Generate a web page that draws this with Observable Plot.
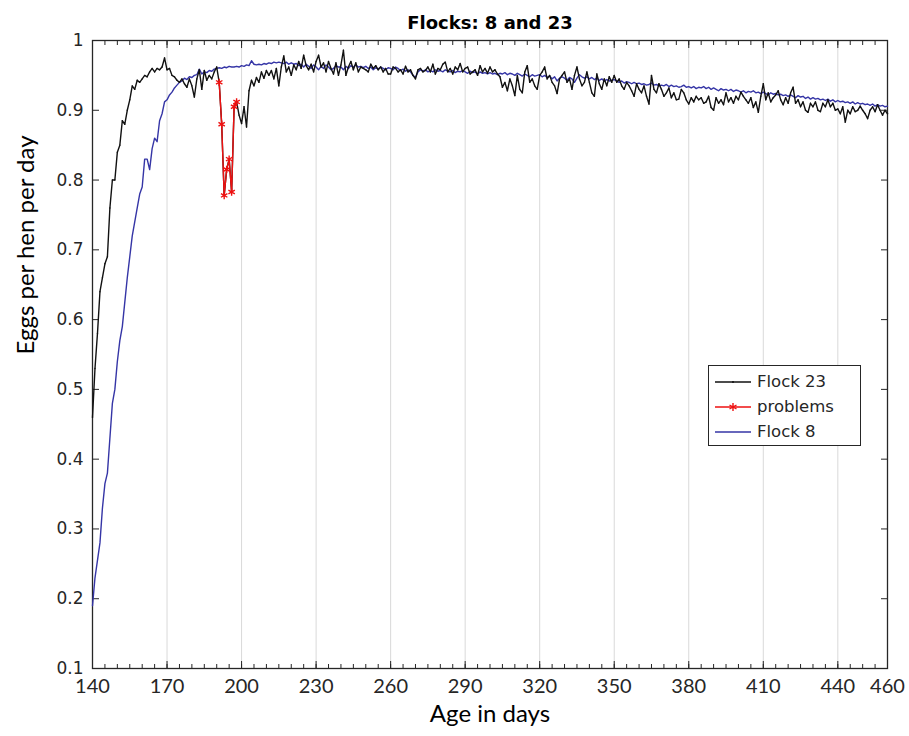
<!DOCTYPE html>
<html>
<head>
<meta charset="utf-8">
<script src="https://cdn.jsdelivr.net/npm/d3@7"></script>
<script src="https://cdn.jsdelivr.net/npm/@observablehq/plot@0.6"></script>
<style>
  html, body { margin: 0; padding: 0; background: #fff; }
  #wrap { position: relative; width: 909px; height: 736px; }
  #legend { position: absolute; left: 708px; top: 365px; width: 153px; height: 81px;
    border: 1px solid #262626; background: #fff; font-family: "DejaVu Sans", sans-serif;
    font-size: 16.5px; color: #262626; box-sizing: border-box; padding-top: 3px; }
  #legend .row { display: flex; align-items: center; height: 25px; }
  #legend svg { margin-left: 6px; margin-right: 6px; }
</style>
</head>
<body>
<div id="wrap"></div>
<script>
// Age in days (first day of series) and daily values
const startDay = 140;
const flock23 = [
  0.46,0.53,0.58,0.64,0.66,0.68,0.69,0.76,0.80,0.80,
  0.84,0.85,0.885,0.88,0.90,0.915,0.935,0.93,0.943,0.94,
  0.945,0.95,0.948,0.955,0.96,0.955,0.96,0.958,0.962,0.975,
  0.958,0.96,0.95,0.948,0.943,0.94,0.945,0.938,0.933,0.945,
  0.935,0.919,0.945,0.958,0.93,0.957,0.943,0.95,0.945,0.955,
  0.962,0.94,0.88,0.778,0.815,0.83,0.783,0.905,0.912,0.893,
  0.881,0.905,0.876,0.928,0.943,0.935,0.947,0.94,0.955,0.946,
  0.957,0.95,0.957,0.945,0.96,0.935,0.962,0.978,0.955,0.962,
  0.95,0.965,0.958,0.97,0.96,0.979,0.964,0.958,0.966,0.955,
  0.97,0.979,0.962,0.968,0.955,0.97,0.96,0.952,0.968,0.95,
  0.965,0.986,0.95,0.962,0.97,0.958,0.968,0.955,0.962,0.96,
  0.958,0.955,0.966,0.96,0.964,0.958,0.962,0.955,0.96,0.952,
  0.952,0.962,0.96,0.955,0.958,0.952,0.963,0.955,0.958,0.95,
  0.945,0.958,0.96,0.955,0.957,0.962,0.955,0.966,0.952,0.96,
  0.958,0.966,0.969,0.955,0.96,0.952,0.962,0.958,0.967,0.955,
  0.96,0.962,0.952,0.955,0.958,0.95,0.964,0.955,0.96,0.953,
  0.962,0.955,0.958,0.952,0.948,0.933,0.94,0.928,0.945,0.935,
  0.921,0.95,0.93,0.925,0.955,0.964,0.94,0.945,0.935,0.93,
  0.95,0.955,0.962,0.945,0.95,0.94,0.935,0.924,0.945,0.95,
  0.955,0.94,0.945,0.93,0.95,0.962,0.945,0.935,0.94,0.955,
  0.94,0.925,0.92,0.952,0.938,0.93,0.945,0.935,0.948,0.94,
  0.95,0.94,0.945,0.935,0.93,0.94,0.935,0.928,0.92,0.938,
  0.93,0.925,0.935,0.92,0.909,0.95,0.93,0.925,0.938,0.93,
  0.92,0.925,0.932,0.918,0.925,0.915,0.916,0.93,0.925,0.915,
  0.909,0.918,0.912,0.92,0.915,0.918,0.91,0.912,0.92,0.904,
  0.90,0.918,0.91,0.915,0.908,0.925,0.912,0.918,0.91,0.92,
  0.915,0.926,0.92,0.915,0.91,0.918,0.904,0.912,0.897,0.92,
  0.938,0.915,0.925,0.912,0.918,0.922,0.928,0.915,0.908,0.918,
  0.91,0.925,0.933,0.91,0.915,0.905,0.912,0.90,0.897,0.91,
  0.905,0.912,0.90,0.898,0.91,0.905,0.915,0.905,0.91,0.90,
  0.902,0.895,0.905,0.883,0.90,0.895,0.905,0.898,0.90,0.906,
  0.90,0.895,0.888,0.90,0.905,0.898,0.908,0.90,0.893,0.90,
  0.895
];
const flock8 = [
  0.19,0.23,0.255,0.28,0.33,0.365,0.38,0.43,0.48,0.50,
  0.54,0.57,0.59,0.625,0.66,0.69,0.72,0.74,0.76,0.78,
  0.79,0.83,0.83,0.815,0.845,0.86,0.855,0.885,0.895,0.912,
  0.915,0.922,0.926,0.932,0.936,0.94,0.942,0.946,0.944,0.948,
  0.947,0.95,0.951,0.959,0.952,0.955,0.954,0.957,0.956,0.959,
  0.96,0.961,0.96,0.962,0.961,0.963,0.962,0.962,0.963,0.962,
  0.964,0.963,0.965,0.964,0.971,0.966,0.965,0.966,0.965,0.967,
  0.966,0.968,0.967,0.969,0.968,0.969,0.968,0.967,0.969,0.966,
  0.968,0.966,0.967,0.964,0.966,0.962,0.966,0.963,0.96,0.965,
  0.962,0.958,0.963,0.96,0.965,0.962,0.958,0.96,0.964,0.962,
  0.962,0.958,0.963,0.96,0.964,0.962,0.965,0.962,0.963,0.961,
  0.963,0.96,0.962,0.958,0.961,0.959,0.962,0.96,0.958,0.961,
  0.96,0.958,0.962,0.96,0.957,0.959,0.956,0.958,0.955,0.95,
  0.947,0.955,0.958,0.956,0.958,0.955,0.957,0.955,0.958,0.956,
  0.957,0.955,0.958,0.956,0.955,0.957,0.954,0.956,0.955,0.957,
  0.955,0.953,0.956,0.954,0.955,0.952,0.955,0.953,0.954,0.952,
  0.954,0.952,0.953,0.951,0.953,0.952,0.954,0.951,0.953,0.952,
  0.95,0.953,0.951,0.949,0.952,0.95,0.948,0.951,0.949,0.95,
  0.951,0.948,0.95,0.947,0.949,0.945,0.948,0.942,0.946,0.948,
  0.946,0.943,0.947,0.945,0.94,0.946,0.951,0.948,0.946,0.948,
  0.945,0.947,0.944,0.946,0.943,0.945,0.942,0.944,0.942,0.943,
  0.944,0.942,0.94,0.942,0.939,0.941,0.94,0.938,0.94,0.938,
  0.939,0.937,0.938,0.936,0.937,0.939,0.936,0.937,0.935,0.936,
  0.935,0.937,0.934,0.936,0.934,0.935,0.933,0.934,0.936,0.933,
  0.934,0.932,0.934,0.931,0.933,0.932,0.934,0.931,0.933,0.93,
  0.932,0.93,0.928,0.931,0.929,0.93,0.928,0.93,0.927,0.929,
  0.928,0.926,0.928,0.925,0.927,0.926,0.928,0.925,0.926,0.924,
  0.926,0.924,0.922,0.925,0.923,0.924,0.922,0.923,0.921,0.922,
  0.92,0.922,0.92,0.918,0.921,0.919,0.92,0.917,0.919,0.916,
  0.918,0.916,0.917,0.915,0.916,0.914,0.916,0.913,0.915,0.912,
  0.914,0.912,0.913,0.911,0.912,0.91,0.912,0.909,0.911,0.909,
  0.91,0.908,0.909,0.907,0.909,0.906,0.908,0.906,0.907,0.905,
  0.906
];
const problemDays = [191,192,193,194,195,196,197,198];
const problemVals = [0.94,0.88,0.778,0.815,0.83,0.783,0.905,0.912];

const xTickLabels = [140,170,200,230,260,290,320,350,380,410,440,460];
const xGrid = [170,200,230,260,290,320,350,380,410,440];
const xMinorTicks = d3.range(140, 461, 5);
const yTicks = [0.1,0.2,0.3,0.4,0.5,0.6,0.7,0.8,0.9,1];

const titleText = "Flocks: 8 and 23";
const xLabel = "Age in days";
const yLabel = "Eggs per hen per day";

const d23 = flock23.map((v, i) => ({day: startDay + i, v}));
const d8 = flock8.map((v, i) => ({day: startDay + i, v}));
const dProb = problemDays.map((day, i) => ({day, v: problemVals[i]}));

const ink = "#262626";
const tickFont = "'DejaVu Sans', sans-serif";
const labelFont = "Lato, 'Open Sans', sans-serif";

const chart = Plot.plot({
  width: 909,
  height: 736,
  marginLeft: 92,
  marginRight: 22,
  marginTop: 40,
  marginBottom: 68,
  x: {domain: [140, 460], label: null},
  y: {domain: [0.1, 1], label: null},
  style: {background: "#fff", color: ink},
  marks: [
    Plot.gridX(xGrid, {stroke: "#d9d9d9", strokeOpacity: 1}),
    // inward minor/major ticks on bottom and top
    Plot.axisX(xMinorTicks, {anchor: "bottom", tickSize: -4, text: null, label: null, stroke: ink}),
    Plot.axisX(xMinorTicks, {anchor: "top", tickSize: -4, text: null, label: null, stroke: ink}),
    Plot.axisX(xGrid, {anchor: "bottom", tickSize: -7, text: null, label: null, stroke: ink}),
    Plot.axisX(xGrid, {anchor: "top", tickSize: -7, text: null, label: null, stroke: ink}),
    Plot.axisX(xTickLabels, {anchor: "bottom", tickSize: 0, tickPadding: 10, label: null,
      tickFormat: d => String(d), fontSize: 20, fontFamily: labelFont, fill: ink}),
    Plot.axisY(yTicks, {anchor: "left", tickSize: -7, tickPadding: 16, label: null,
      tickFormat: d => String(d), fontSize: 17, fontFamily: tickFont, fill: ink, stroke: ink}),
    Plot.axisY(yTicks, {anchor: "right", tickSize: -7, text: null, label: null, stroke: ink}),
    Plot.frame({stroke: ink, strokeWidth: 1.3}),
    Plot.line(d8, {x: "day", y: "v", stroke: "#3535a6", strokeWidth: 1.4}),
    Plot.line(d23, {x: "day", y: "v", stroke: "#111", strokeWidth: 1.4}),
    Plot.dot(d23, {x: "day", y: "v", r: 0.7, fill: "#111"}),
    Plot.line(dProb, {x: "day", y: "v", stroke: "#ee1111", strokeWidth: 1.4}),
    Plot.dot(dProb, {x: "day", y: "v", symbol: "asterisk", r: 3.5, stroke: "#ee1111", strokeWidth: 1.4}),
    Plot.text([titleText], {frameAnchor: "top", dy: -24, fontSize: 18, fontWeight: "bold",
      fontFamily: tickFont, fill: "#000"}),
    Plot.text([xLabel], {frameAnchor: "bottom", dy: 53, fontSize: 24, fontFamily: labelFont, fill: "#000"}),
    Plot.text([yLabel], {frameAnchor: "left", dx: -66, rotate: -90, fontSize: 24, fontFamily: labelFont, fill: "#000"})
  ]
});

const wrap = document.getElementById("wrap");
wrap.appendChild(chart);

// legend
const legend = document.createElement("div");
legend.id = "legend";
const entries = [
  {label: "Flock 23", color: "#111", marker: "dot"},
  {label: "problems", color: "#ee1111", marker: "star"},
  {label: "Flock 8", color: "#3535a6", marker: null}
];
for (const e of entries) {
  const row = document.createElement("div");
  row.className = "row";
  let m = "";
  if (e.marker === "dot") m = `<circle cx="18" cy="6" r="1" fill="${e.color}"/>`;
  if (e.marker === "star") m = `<path d="M18,2V10M14.5,4L21.5,8M14.5,8L21.5,4" stroke="${e.color}" stroke-width="1.4"/>`;
  row.innerHTML = `<svg width="36" height="12"><line x1="0" y1="6" x2="36" y2="6" stroke="${e.color}" stroke-width="1.4"/>${m}</svg><span>${e.label}</span>`;
  legend.appendChild(row);
}
wrap.appendChild(legend);
</script>
</body>
</html>
